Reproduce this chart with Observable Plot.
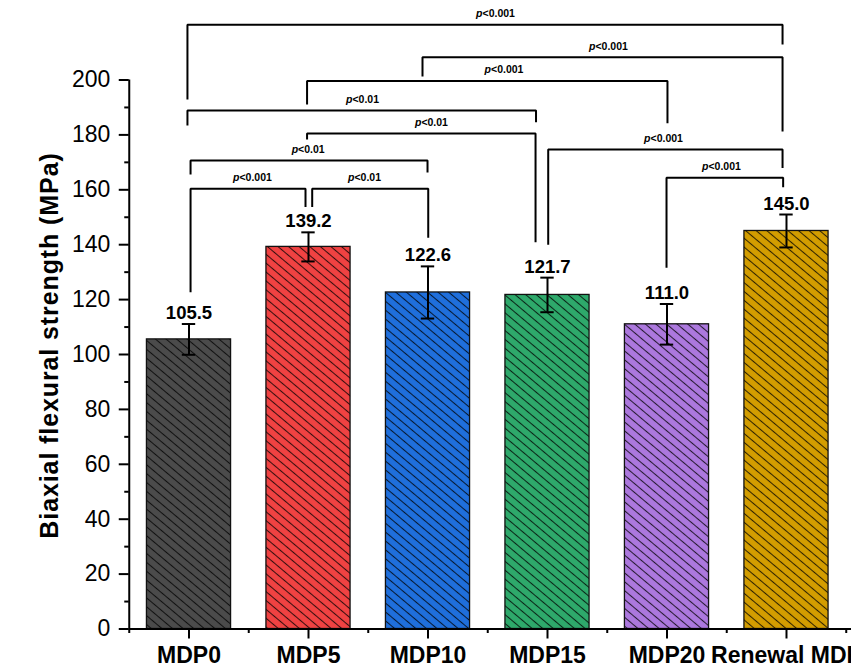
<!DOCTYPE html>
<html>
<head>
<meta charset="utf-8">
<script src="https://cdn.jsdelivr.net/npm/d3@7"></script>
<script src="https://cdn.jsdelivr.net/npm/@observablehq/plot@0.6"></script>
<style>
  html, body { margin: 0; padding: 0; background: #fff; overflow: hidden; }
  #chart svg { display: block; }
</style>
</head>
<body>
<div id="chart"></div>
<script>
// ---- data ----
const categories = ["MDP0", "MDP5", "MDP10", "MDP15", "MDP20", "Renewal MDP"];
const means = [105.5, 139.2, 122.6, 121.7, 111.0, 145.0];
const sds = [5.6, 5.3, 9.5, 6.3, 7.4, 6.0];
const barColors = ["#4b4b4b", "#f04242", "#1f6fdc", "#2ea96b", "#ac78de", "#d39d00"];
const yMajorTicks = [0, 20, 40, 60, 80, 100, 120, 140, 160, 180, 200];
const yMinorTicks = [10, 30, 50, 70, 90, 110, 130, 150, 170, 190];
// significance comparisons: group a vs group b
const comparisons = [
  {a: 0, b: 5, p: "p<0.001"},
  {a: 2, b: 5, p: "p<0.001"},
  {a: 1, b: 4, p: "p<0.001"},
  {a: 0, b: 3, p: "p<0.01"},
  {a: 1, b: 3, p: "p<0.01"},
  {a: 3, b: 5, p: "p<0.001"},
  {a: 4, b: 5, p: "p<0.001"},
  {a: 0, b: 2, p: "p<0.01"},
  {a: 0, b: 1, p: "p<0.001"},
  {a: 1, b: 2, p: "p<0.01"}
];
// bracket layout (annotation geometry in data units): bar level, leg ends, small x shifts, label x
const bracketLayout = [
  {level: 220.1, endA: 192.9, endB: 212.9, shiftA: -0.013, shiftB: -0.033, labelX: 2.565},
  {level: 208.3, endA: 201.3, endB: 181.2, shiftA: -0.046, shiftB: -0.033, labelX: 3.510},
  {level: 199.6, endA: 191.1, endB: 184.2, shiftA: -0.012, shiftB: 0.004, labelX: 2.636},
  {level: 188.9, endA: 183.4, endB: 184.6, shiftA: -0.013, shiftB: -0.096, labelX: 1.452},
  {level: 180.5, endA: 178.3, endB: 140.9, shiftA: -0.012, shiftB: -0.100, labelX: 2.029},
  {level: 174.7, endA: 140.0, endB: 167.9, shiftA: 0.006, shiftB: -0.033, labelX: 3.971},
  {level: 164.4, endA: 131.6, endB: 160.9, shiftA: -0.004, shiftB: -0.028, labelX: 4.456},
  {level: 170.7, endA: 165.6, endB: 166.3, shiftA: 0.013, shiftB: -0.004, labelX: 0.997},
  {level: 160.4, endA: 122.7, endB: 153.7, shiftA: 0.013, shiftB: -0.025, labelX: 0.531},
  {level: 160.4, endA: 153.7, endB: 142.5, shiftA: 0.031, shiftB: 0.002, labelX: 1.469}
];

// ---- derived tables ----
const rows = categories.map((c, i) => ({i, c, mean: means[i], sd: sds[i], color: barColors[i]}));
const brackets = comparisons.map((c, k) => ({...c, ...bracketLayout[k], id: k}));
const bracketPts = brackets.flatMap(b => [
  {id: b.id, x: b.a + b.shiftA, y: b.endA},
  {id: b.id, x: b.a + b.shiftA, y: b.level},
  {id: b.id, x: b.b + b.shiftB, y: b.level},
  {id: b.id, x: b.b + b.shiftB, y: b.endB}
]);
const xMajor = categories.map((c, i) => i);
const xMinor = d3.range(-0.5, categories.length, 1);
const halfBar = 0.352, halfCap = 0.056;
const FONT = "'Liberation Sans', Arial, Helvetica, sans-serif";

const svg = Plot.plot({
  width: 851,
  height: 670,
  marginLeft: 128.75,
  marginRight: 0,
  marginTop: 79.5,
  marginBottom: 41.5,
  style: {fontFamily: FONT, background: "#fff", color: "#000"},
  x: {domain: [-0.5, 5.544]},
  y: {domain: [0, 200]},
  color: {type: "identity"},
  marks: [
    // bars
    Plot.rectY(rows, {x1: d => d.i - halfBar, x2: d => d.i + halfBar, y1: 0, y2: "mean", fill: "color"}),
    Plot.rectY(rows, {x1: d => d.i - halfBar, x2: d => d.i + halfBar, y1: 0, y2: "mean", fill: "url(#hatch)", stroke: "#111", strokeWidth: 1.3}),
    // error bars
    Plot.ruleX(rows, {x: "i", y1: d => d.mean - d.sd, y2: d => d.mean + d.sd, stroke: "#000", strokeWidth: 2}),
    Plot.ruleY(rows, {y: d => d.mean + d.sd, x1: d => d.i - halfCap, x2: d => d.i + halfCap, stroke: "#000", strokeWidth: 2}),
    Plot.ruleY(rows, {y: d => d.mean - d.sd, x1: d => d.i - halfCap, x2: d => d.i + halfCap, stroke: "#000", strokeWidth: 2}),
    // value labels
    Plot.text(rows, {x: "i", y: d => d.mean + d.sd, text: d => d.mean.toFixed(1), dy: -5, lineAnchor: "bottom", fontSize: 18.5, fontWeight: "bold", fill: "#000"}),
    // significance brackets
    Plot.line(bracketPts, {x: "x", y: "y", z: "id", stroke: "#000", strokeWidth: 2, strokeLinejoin: "miter", strokeLinecap: "butt"}),
    Plot.text(brackets, {x: "labelX", y: "level", text: "p", dy: -11, lineAnchor: "middle", fontSize: 10.5, fontWeight: "bold", fill: "#000"}),
    // axes
    Plot.axisY({ticks: yMajorTicks, tickSize: 10, tickPadding: 9, fontSize: 23, strokeWidth: 2, label: null}),
    Plot.axisY({ticks: yMinorTicks, tickSize: 4.5, tickFormat: () => "", strokeWidth: 2, label: null}),
    Plot.axisX({ticks: xMajor, tickFormat: i => categories[i], tickSize: 10, tickPadding: 8, fontSize: 23, fontWeight: "bold", strokeWidth: 2, label: null}),
    Plot.axisX({ticks: xMinor, tickSize: 4.5, tickFormat: () => "", strokeWidth: 2, label: null}),
    Plot.ruleY([0], {stroke: "#000", strokeWidth: 2}),
    Plot.ruleX([-0.5], {y1: 0, y2: 200, stroke: "#000", strokeWidth: 2}),
    // y title
    Plot.text(["Biaxial flexural strength (MPa)"], {frameAnchor: "left", textAnchor: "middle", dx: -79, dy: -9, rotate: -90, lineAnchor: "middle", fontSize: 25, fontWeight: "bold", fill: "#000"})
  ]
});

// hatch pattern definition
const defs = d3.select(svg).insert("defs", ":first-child");
const pat = defs.append("pattern")
  .attr("id", "hatch")
  .attr("patternUnits", "userSpaceOnUse")
  .attr("width", 20)
  .attr("height", 6.8)
  .attr("patternTransform", "rotate(40)");
pat.append("line")
  .attr("x1", 0).attr("x2", 20)
  .attr("y1", 3.4).attr("y2", 3.4)
  .attr("stroke", "#000")
  .attr("stroke-opacity", 0.78)
  .attr("stroke-width", 1.05);

// italic p in p-value labels
d3.select(svg).selectAll("text").filter(function() { return /^p</.test(this.textContent); })
  .each(function() {
    const t = this.textContent;
    const sel = d3.select(this);
    sel.text(null);
    sel.append("tspan").attr("font-style", "italic").text("p");
    sel.append("tspan").text(t.slice(1));
  });

// letter spacing for the y title
d3.select(svg).selectAll("text").filter(function() { return this.textContent.startsWith("Biaxial"); })
  .attr("letter-spacing", "0.9px");

document.getElementById("chart").appendChild(svg);
</script>
</body>
</html>
